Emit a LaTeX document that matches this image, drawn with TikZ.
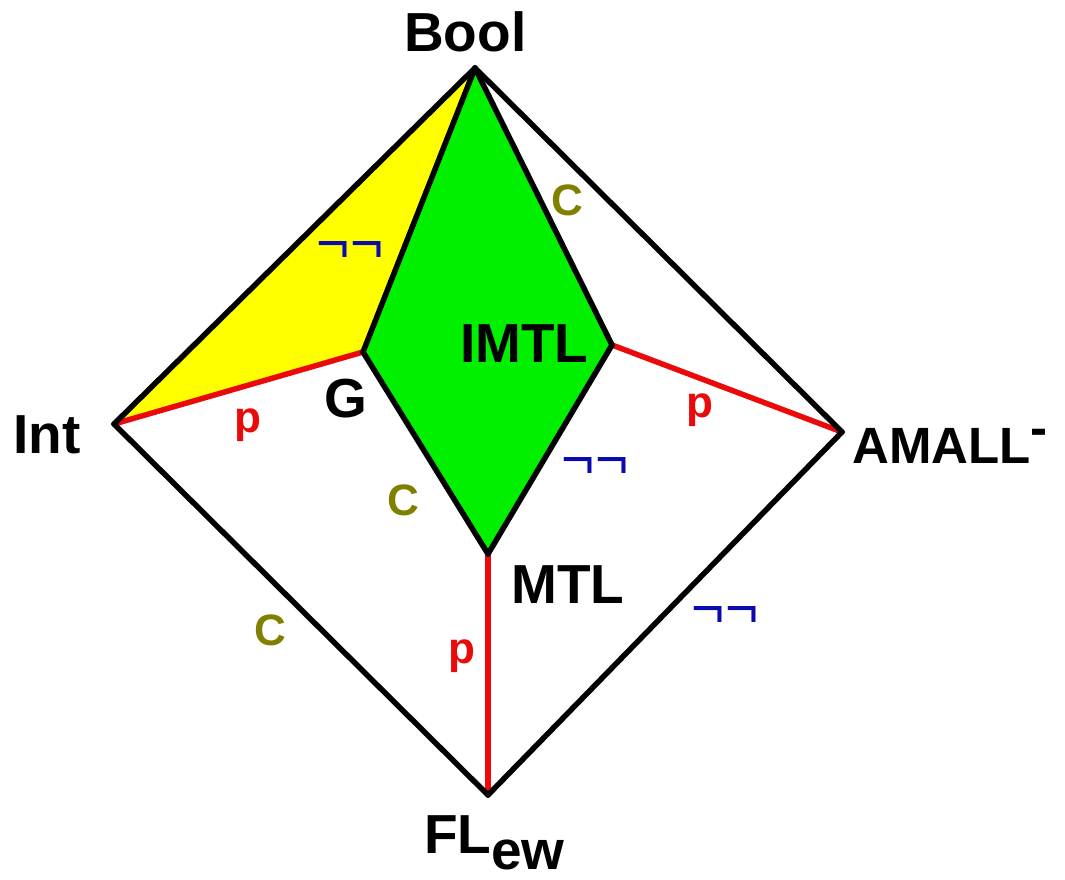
\documentclass[tikz,border=0pt]{standalone}
\usepackage{fontspec}
\setmainfont{Liberation Sans}
\definecolor{fillyellow}{RGB}{255,255,0}
\definecolor{fillgreen}{RGB}{0,240,0}
\definecolor{edgered}{RGB}{235,10,10}
\definecolor{labolive}{RGB}{128,128,0}
\definecolor{labblue}{RGB}{10,10,175}
\begin{document}
\begin{tikzpicture}[x=1pt,y=-1pt,
  blackedge/.style={line width=5.5pt,black,line cap=round,line join=round},
  rededge/.style={line width=5.5pt,edgered,line cap=round},
  vlabel/.style={font=\bfseries\fontsize{55}{60}\selectfont,inner sep=0pt,anchor=base west},
  clabel/.style={font=\bfseries\fontsize{44}{50}\selectfont,text=labolive,inner sep=0pt},
  plabel/.style={font=\bfseries\fontsize{44}{50}\selectfont,text=edgered,inner sep=0pt},
  nnlabel/.style={font=\fontsize{57}{60}\selectfont,text=labblue,inner sep=0pt}]
\useasboundingbox (0,0) rectangle (1065,880);

% lattice vertices
\coordinate (bool) at (475,68);
\coordinate (int) at (114,424);
\coordinate (amall) at (842,432);
\coordinate (flew) at (488,795);
\coordinate (g) at (363,352);
\coordinate (imtl) at (612,345);
\coordinate (mtl) at (488,554);

% shaded faces
\fill[fillyellow] (bool) -- (int) -- (g) -- cycle;
\fill[fillgreen] (bool) -- (g) -- (mtl) -- (imtl) -- cycle;

% red edges
\draw[rededge] (int) -- (g);
\draw[rededge] (imtl) -- (amall);
\draw[rededge] (mtl) -- (flew);

% black edges
\draw[blackedge] (bool) -- (int);
\draw[blackedge] (bool) -- (amall);
\draw[blackedge] (int) -- (flew);
\draw[blackedge] (amall) -- (flew);
\draw[blackedge] (bool) -- (g);
\draw[blackedge] (g) -- (mtl);
\draw[blackedge] (mtl) -- (imtl);
\draw[blackedge] (imtl) -- (bool);

% vertex names
\node[vlabel] (tBool) at (404,52) {Bool};
\node[vlabel] (tInt) at (13,453) {Int};
\node[vlabel,font=\bfseries\fontsize{51}{60}\selectfont] (tAmall) at (852,463) {AMALL\raisebox{18pt}{-}};
\node[vlabel] (tFlew) at (424,853) {FL\raisebox{-16pt}{ew}};
\node[vlabel] (tG) at (324,417) {G};
\node[vlabel] (tImtl) at (460,362) {IMTL};
\node[vlabel] (tMtl) at (511,603) {MTL};

% edge labels
\node[clabel] (c1) at (567,200) {C};
\node[clabel] (c2) at (403,500) {C};
\node[clabel] (c3) at (270,630) {C};
\node[plabel] (p1) at (248,425) {p};
\node[plabel] (p2) at (700,410) {p};
\node[plabel] (p3) at (462,656) {p};
\node[nnlabel] (n1) at (350,252) {¬¬};
\node[nnlabel] (n2) at (595,468) {¬¬};
\node[nnlabel] (n3) at (725,617) {¬¬};
\end{tikzpicture}
\end{document}
